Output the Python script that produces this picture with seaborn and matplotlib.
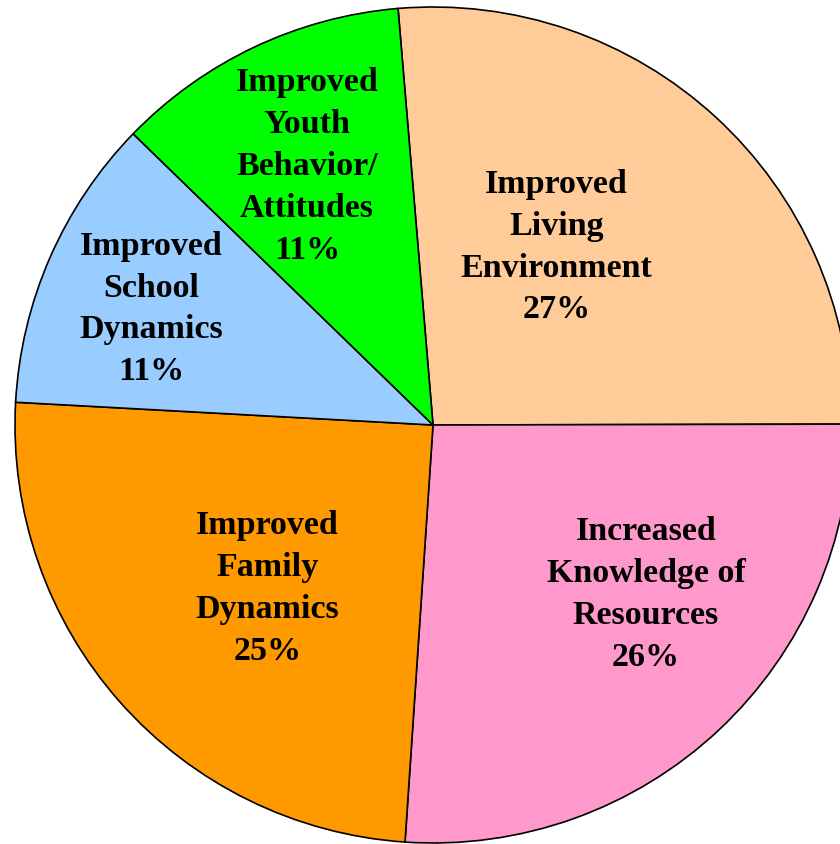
import numpy as np
import matplotlib
matplotlib.use("Agg")
from matplotlib import pyplot as plt
import seaborn as sns

# 数据
categories = ["Improved\nLiving\nEnvironment",
              "Increased\nKnowledge of\nResources",
              "Improved\nFamily\nDynamics",
              "Improved\nSchool\nDynamics",
              "Improved\nYouth\nBehavior/\nAttitudes"]
shares = [26.3, 26.1, 24.8, 11.4, 11.4]
pct_labels = ["27%", "26%", "25%", "11%", "11%"]
colors = ["#FFCC99", "#FF99CC", "#FF9900", "#99CCFF", "#00FF00"]

# 标签位置 (相对扇区中线的半径和角度偏移)
label_r = [0.52, 0.65, 0.555, 0.73, 0.69]
label_dang = [7.9, 8.5, 3.0, 1.1, 0.6]

sns.set_theme(style="white")
plt.rcParams["font.family"] = ["Liberation Serif", "DejaVu Serif"]

fig = plt.figure(figsize=(8.4, 8.45), dpi=100)
ax = fig.add_axes([0, 0, 1, 1])

wedges, _ = ax.pie(shares, colors=sns.color_palette(colors), startangle=94.8,
                   counterclock=False, radius=1,
                   wedgeprops=dict(edgecolor="black", linewidth=1.2))

for w, cat, pct, r, da in zip(wedges, categories, pct_labels, label_r, label_dang):
    ang = np.deg2rad((w.theta1 + w.theta2) / 2 + da)
    ax.text(r * np.cos(ang), r * np.sin(ang), cat + "\n" + pct,
            ha="center", va="center", fontsize=24.5, fontweight="bold",
            linespacing=1.45, color="black")

ax.set_aspect("auto")
ax.set_xlim(-433 / 418, (840 - 433) / 418)
ax.set_ylim(-(845 - 426) / 418, 426 / 418)
ax.axis("off")

plt.savefig("out.png", dpi=100)
